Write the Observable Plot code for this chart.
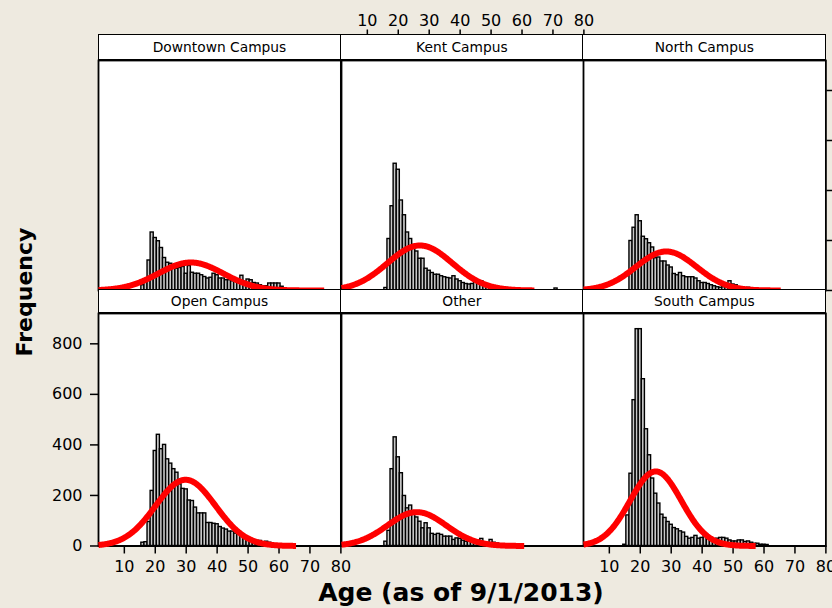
<!DOCTYPE html>
<html>
<head>
<meta charset="utf-8">
<script src="https://cdn.jsdelivr.net/npm/d3@7"></script>
<script src="https://cdn.jsdelivr.net/npm/@observablehq/plot@0.6"></script>
<style>
html,body{margin:0;padding:0;background:#EEEAE0;}
#chart{position:relative;width:832px;height:608px;overflow:hidden;background:#EEEAE0;font-family:"DejaVu Sans",Verdana,sans-serif;color:#000;}
#chart svg{position:absolute;overflow:visible;}
.strip{position:absolute;box-sizing:border-box;background:#fff;border:1.6px solid #000;display:flex;align-items:center;justify-content:center;font-size:13.8px;white-space:nowrap;}
.title{position:absolute;font-weight:bold;white-space:nowrap;line-height:1;}
</style>
</head>
<body>
<div id="chart"></div>
<script>
// ---- data ----
const campuses = ["Downtown Campus", "Kent Campus", "North Campus", "Open Campus", "Other", "South Campus"];
const firstAge = [16, 16, 17, 16, 16, 15];
const downtownCounts = [21, 40, 120, 232, 210, 197, 170, 130, 111, 107, 95, 87, 90, 94, 67, 98, 71, 67, 67, 61, 54, 48, 51, 67, 61, 48, 48, 41, 41, 37, 37, 34, 59, 34, 44, 41, 30, 28, 21, 17, 17, 28, 28, 28, 28, 15];
const kentCounts = [10, 206, 337, 507, 483, 360, 301, 232, 206, 182, 156, 127, 127, 87, 79, 70, 63, 63, 57, 53, 50, 48, 57, 44, 37, 30, 26, 24, 26, 34, 34, 37, 24, 17, 20, 17, 13, 13, 13, 10, 8, 8, 5, 0, 0, 0, 0, 0, 0, 0, 0, 0, 0, 0, 0, 8];
const northCounts = [198, 251, 301, 277, 215, 205, 189, 172, 129, 132, 116, 116, 100, 92, 66, 61, 70, 57, 53, 53, 53, 48, 37, 30, 30, 26, 21, 17, 13, 11, 13, 11, 37, 24, 21, 13, 11, 8, 11, 7, 4];
const openCounts = [13, 15, 95, 218, 376, 440, 383, 400, 343, 326, 304, 290, 244, 226, 224, 180, 178, 152, 129, 129, 129, 91, 91, 88, 86, 75, 69, 65, 57, 57, 49, 46, 42, 29, 29, 26, 22, 20, 20, 13, 17, 13, 8, 5];
const otherCounts = [17, 60, 304, 430, 351, 288, 198, 149, 160, 132, 113, 96, 70, 90, 70, 48, 44, 48, 44, 37, 37, 37, 24, 30, 28, 21, 17, 17, 17, 17, 13, 28, 13, 10, 24, 13, 10, 5];
const southCounts = [5, 121, 286, 577, 858, 858, 660, 462, 359, 267, 207, 168, 124, 111, 95, 84, 71, 66, 58, 53, 36, 29, 32, 40, 29, 32, 42, 29, 22, 22, 29, 32, 32, 29, 22, 18, 18, 22, 22, 16, 18, 13, 9, 9, 5, 5, 4];
const counts = [downtownCounts, kentCounts, northCounts, openCounts, otherCounts, southCounts];
// fitted normal curve (mean, st.dev, height of peak in counts, last age drawn)
const fitMean = [31.5, 27, 28.4, 29.8, 26, 25];
const fitSd = [10.5, 10.5, 9.8, 9.7, 9.5, 8.3];
const fitPeak = [112, 180, 156, 262, 134, 295];
const curveEnd = [74.6, 64, 65.4, 65.5, 60.7, 57.3];
const xTicks = [10, 20, 30, 40, 50, 60, 70, 80];
const yTicks = [0, 200, 400, 600, 800];
const xTitle = "Age (as of 9/1/2013)";
const yTitle = "Frequency";

// ---- layout ----
const chart = document.getElementById("chart");
const W = 242.4, M = 40;
const colX = [98.3, 340.7, 583.1];
const rowStrip = [35, 289.5];
const rowPlot = [59.5, 312.5];
const rowH = [230, 232.5];
const xMin = 1.65, xMax = 80, yMax = 920;
const bottomAxis = [3, 5], topAxis = [1], leftAxis = [3], rightAxis = [2];

campuses.forEach((name, i) => {
  const r = Math.floor(i / 3), c = i % 3;
  const H = rowH[r];
  const bins = counts[i].map((v, k) => ({age: firstAge[i] + k, n: v})).filter(d => d.n > 0);
  const xs = d3.range(xMin, curveEnd[i], 0.25).concat([curveEnd[i]]);
  const curve = xs.map(x => ({x, y: fitPeak[i] * Math.exp(-((x - fitMean[i]) ** 2) / (2 * fitSd[i] ** 2))}));
  const hasX = bottomAxis.includes(i) || topAxis.includes(i);
  const hasY = leftAxis.includes(i) || rightAxis.includes(i);
  const marks = [
    Plot.frame({fill: "white"}),
    Plot.rectY(bins, {x1: d => d.age - 0.5, x2: d => d.age + 0.5, y: "n", fill: "#c8c8c8", stroke: "black", strokeWidth: 1.4}),
    Plot.ruleY([0], {stroke: "black", strokeWidth: 2}),
    Plot.frame({stroke: "black", strokeWidth: 1.8})
  ];
  if (bottomAxis.includes(i)) marks.push(Plot.axisX(xTicks, {anchor: "bottom", tickSize: 8, tickPadding: 7, strokeWidth: 1.5, label: null}));
  if (topAxis.includes(i)) marks.push(Plot.axisX(xTicks, {anchor: "top", tickSize: 7, tickPadding: 3, dy: -(rowPlot[r] - rowStrip[r]), strokeWidth: 1.5, label: null}));
  if (leftAxis.includes(i)) marks.push(Plot.axisY(yTicks, {anchor: "left", tickSize: 8, tickPadding: 8, strokeWidth: 1.5, label: null}));
  if (rightAxis.includes(i)) marks.push(Plot.axisY(yTicks, {anchor: "right", tickSize: 9, tickFormat: () => "", strokeWidth: 1.5, label: null}));
  marks.push(Plot.line(curve, {x: "x", y: "y", stroke: "#ff0000", strokeWidth: 6, strokeLinecap: "butt"}));

  const svg = Plot.plot({
    width: W + 2 * M, height: H + 2 * M,
    marginTop: M, marginRight: M, marginBottom: M, marginLeft: M,
    x: {domain: [xMin, xMax], label: null, axis: hasX ? undefined : null},
    y: {domain: [0, yMax], label: null, axis: hasY ? undefined : null},
    style: {background: "transparent", fontFamily: "DejaVu Sans, Verdana, sans-serif", fontSize: "16px", color: "black", overflow: "visible"},
    marks
  });
  svg.style.left = (colX[c] - M) + "px";
  svg.style.top = (rowPlot[r] - M) + "px";
  chart.appendChild(svg);

  const strip = document.createElement("div");
  strip.className = "strip";
  strip.textContent = name;
  strip.style.left = (colX[c] - 0.8) + "px";
  strip.style.top = (rowStrip[r] - 0.8) + "px";
  strip.style.width = (W + 1.6) + "px";
  strip.style.height = (rowPlot[r] - rowStrip[r] + 1.6) + "px";
  chart.appendChild(strip);
});

const xt = document.createElement("div");
xt.className = "title";
xt.textContent = xTitle;
xt.style.fontSize = "25px";
xt.style.left = "461px";
xt.style.top = "580px";
xt.style.transform = "translateX(-50%)";
chart.appendChild(xt);

const yt = document.createElement("div");
yt.className = "title";
yt.textContent = yTitle;
yt.style.fontSize = "22px";
yt.style.left = "25px";
yt.style.top = "292px";
yt.style.transform = "translate(-50%,-50%) rotate(-90deg)";
chart.appendChild(yt);
</script>
</body>
</html>
